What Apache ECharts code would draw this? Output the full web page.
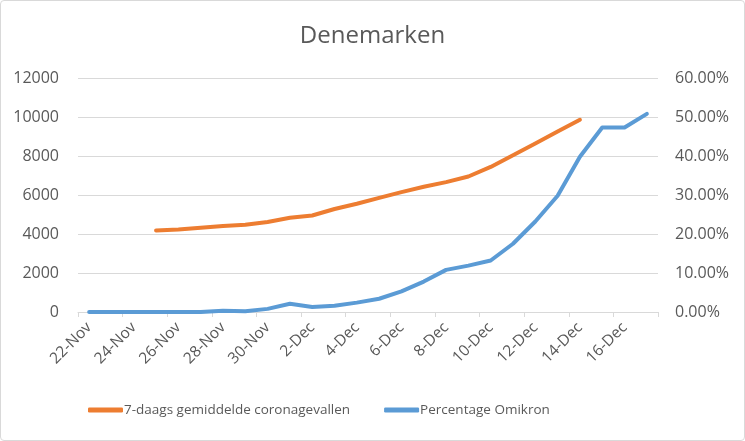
<!DOCTYPE html>
<html>
<head>
<meta charset="utf-8">
<script src="https://cdn.jsdelivr.net/npm/echarts@6/dist/echarts.min.js"></script>
<style>
html,body{margin:0;padding:0;background:#fff;}
#frame{position:absolute;left:0;top:0;width:743px;height:439px;border:1px solid #d9d9d9;border-radius:4px;}
#chart{position:absolute;left:0;top:0;width:745px;height:441px;}
</style>
</head>
<body>
<div id="frame"></div>
<div id="chart"></div>
<script>
const categories = ['22-Nov','23-Nov','24-Nov','25-Nov','26-Nov','27-Nov','28-Nov','29-Nov','30-Nov',
  '1-Dec','2-Dec','3-Dec','4-Dec','5-Dec','6-Dec','7-Dec','8-Dec','9-Dec','10-Dec','11-Dec',
  '12-Dec','13-Dec','14-Dec','15-Dec','16-Dec','17-Dec'];
const cases7d = [null,null,null,4180,4230,4320,4410,4470,4620,4830,4950,5280,5550,5850,
  6150,6420,6660,6950,7440,8040,8640,9260,9860,null,null,null];
const omicronPct = [0,0,0,0,0,0,0.35,0.2,0.8,2.1,1.3,1.6,2.4,3.4,
  5.3,7.8,10.8,11.9,13.2,17.5,23.2,29.8,39.8,47.3,47.3,50.8];
const leftTicks = {min:0,max:12000,interval:2000};
const rightTicks = {min:0,max:60,interval:10};
const seriesNames = ['7-daags gemiddelde coronagevallen','Percentage Omikron'];

const txt = '#595959';
const font = 'Open Sans';
const chart = echarts.init(document.getElementById('chart'), null, {renderer:'canvas'});
chart.setOption({
  animation:false,
  title:{text:'Denemarken',left:'center',top:19,
    textStyle:{color:txt,fontFamily:font,fontSize:24,fontWeight:'normal'}},
  grid:{left:78,right:87,top:78,bottom:129,containLabel:false},
  legend:{
    left:88,top:403,padding:0,itemWidth:35,itemHeight:5,itemGap:34,icon:'roundRect',
    textStyle:{color:txt,fontFamily:font,fontSize:13.5,padding:[0,0,0,-4]},
    data:seriesNames
  },
  xAxis:{
    type:'category',data:categories,boundaryGap:true,
    axisLine:{lineStyle:{color:'#d9d9d9',width:1}},
    axisTick:{show:true,interval:1,length:5,lineStyle:{color:'#d9d9d9'}},
    axisLabel:{interval:1,rotate:45,color:txt,fontFamily:font,fontSize:15.5,margin:13}
  },
  yAxis:[
    {type:'value',min:leftTicks.min,max:leftTicks.max,interval:leftTicks.interval,
     axisLine:{show:false},axisTick:{show:false},
     splitLine:{lineStyle:{color:'#d9d9d9',width:1}},
     axisLabel:{color:txt,fontFamily:font,fontSize:16,margin:19,formatter:v=>String(v)}},
    {type:'value',min:rightTicks.min,max:rightTicks.max,interval:rightTicks.interval,
     axisLine:{show:false},axisTick:{show:false},splitLine:{show:false},
     axisLabel:{color:txt,fontFamily:font,fontSize:16,margin:17,
       formatter:v=>v.toFixed(2)+'%'}}
  ],
  series:[
    {name:seriesNames[0],type:'line',data:cases7d,yAxisIndex:0,showSymbol:false,symbol:'none',
     connectNulls:false,lineStyle:{color:'#ED7D31',width:4,cap:'round',join:'round'},
     itemStyle:{color:'#ED7D31'}},
    {name:seriesNames[1],type:'line',data:omicronPct,yAxisIndex:1,showSymbol:false,symbol:'none',
     lineStyle:{color:'#5B9BD5',width:4,cap:'round',join:'round'},
     itemStyle:{color:'#5B9BD5'}}
  ]
});
</script>
</body>
</html>
